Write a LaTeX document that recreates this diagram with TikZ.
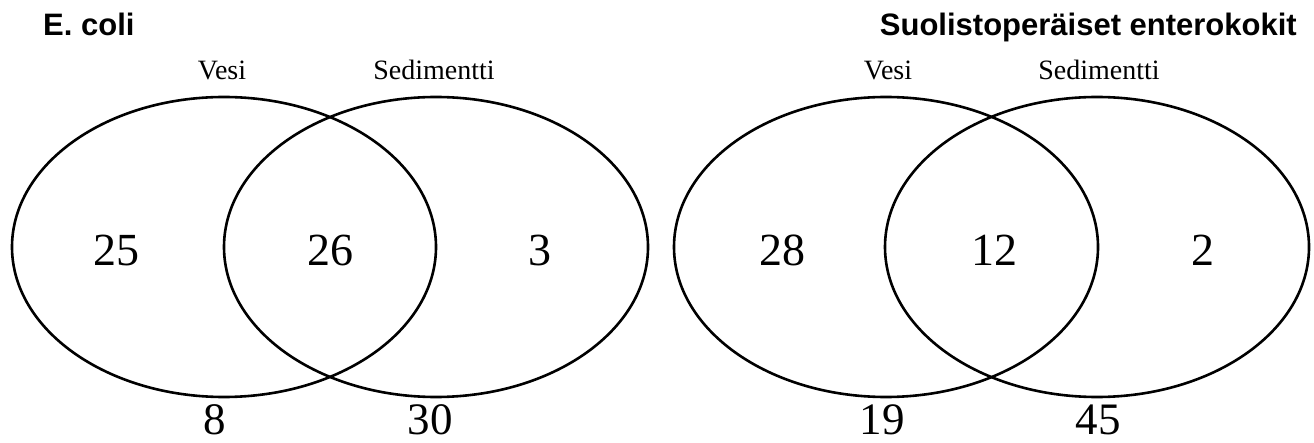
\documentclass[tikz,border=0pt]{standalone}
\usepackage{fontspec}
\setmainfont{Liberation Serif}
\newfontfamily\titlefont{Liberation Sans}
\usetikzlibrary{shapes.geometric,positioning}
\definecolor{lineCol}{RGB}{0,0,0}
\tikzset{
  venn/.style={draw=lineCol,ellipse,line width=2.6pt,minimum width=424pt,
               minimum height=300pt,inner sep=0pt},
  cnt/.style={font=\fontsize{46}{50}\selectfont,anchor=base,inner sep=0pt},
  outcnt/.style={cnt,font=\fontsize{45}{48}\selectfont},
  setlab/.style={font=\fontsize{28}{30}\selectfont,anchor=base,inner sep=0pt},
  ttl/.style={font=\titlefont\bfseries\fontsize{31}{34}\selectfont,inner sep=0pt},
}

\begin{document}
\begin{tikzpicture}[x=1pt,y=-1pt]
    \useasboundingbox (0,0) rectangle (1314,443);
    % E. coli
    \node[ttl,anchor=base west] (ecTitle) at (43,36) {E. coli};
    \node[venn] (ecVesi) at (224,247) {};
    \node[venn] (ecSed) at (436,247) {};
    \node[setlab] (ecVesiLab) at (222,80) {Vesi};
    \node[setlab] (ecSedLab) at (434,80) {Sedimentti};
    \node[cnt] (ecOnlyV) at (116,266) {25};
    \node[cnt] (ecBoth) at (330,266) {26};
    \node[cnt] (ecOnlyS) at (540,266) {3};
    \node[outcnt] (ecNotV) at (215,434) {8};
    \node[outcnt] (ecNotS) at (430,434) {30};
    % enterokokit
    \node[ttl,anchor=base east] (entTitle) at (1297,36) {Suolistoperäiset enterokokit};
    \node[venn] (entVesi) at (886,247) {};
    \node[venn] (entSed) at (1097,247) {};
    \node[setlab] (entVesiLab) at (888,80) {Vesi};
    \node[setlab] (entSedLab) at (1099,80) {Sedimentti};
    \node[cnt] (entOnlyV) at (782,266) {28};
    \node[cnt] (entBoth) at (994,266) {12};
    \node[cnt] (entOnlyS) at (1203,266) {2};
    \node[outcnt] (entNotV) at (882,434) {19};
    \node[outcnt] (entNotS) at (1098,434) {45};
  \end{tikzpicture}
\end{document}
